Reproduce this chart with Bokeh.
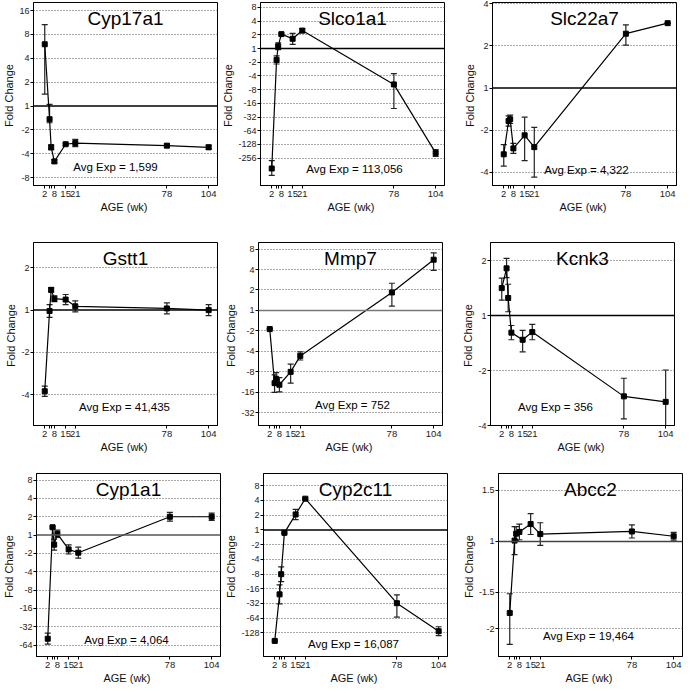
import math
from bokeh.plotting import figure
from bokeh.layouts import column, row
from bokeh.models import (Range1d, FixedTicker, Label, Span, Whisker, TeeHead,
                          ColumnDataSource)
from bokeh.embed import file_html
from bokeh.resources import INLINE

# ---------------- data ----------------
ages = [2, 5, 6, 8, 15, 21, 78, 104]
age_tick_labels = {2: "2", 5: "", 6: "", 8: "8", 15: "15", 21: "21", 78: "78", 104: "104"}

genes = ["Cyp17a1", "Slco1a1", "Slc22a7", "Gstt1", "Mmp7", "Kcnk3", "Cyp1a1", "Cyp2c11", "Abcc2"]
avg_exp = ["1,599", "113,056", "4,322", "41,435", "752", "356", "4,064", "16,087", "19,464"]

# log2 fold change (negative = down-regulation), with error bar ends
cyp17a1_mean = [2.59, -0.55, -1.73, -2.32, -1.60, -1.55, -1.66, -1.73]
cyp17a1_lo = [0.50, -0.70, -1.83, -2.38, -1.65, -1.70, -1.73, -1.82]
cyp17a1_hi = [3.41, 0.07, -1.63, -2.26, -1.55, -1.40, -1.59, -1.64]

slco1a1_mean = [-8.76, -0.83, 0.17, 1.05, 0.71, 1.31, -2.62, -7.62]
slco1a1_lo = [-9.26, -1.13, -0.08, 0.98, 0.31, 1.16, -4.38, -7.87]
slco1a1_hi = [-8.19, -0.53, 0.42, 1.12, 1.11, 1.46, -1.83, -7.37]

slc22a7_mean = [-1.57, -0.78, -0.74, -1.43, -1.12, -1.40, 1.29, 1.54]
slc22a7_lo = [-1.85, -0.90, -0.84, -1.55, -1.72, -2.11, 1.02, 1.54]
slc22a7_hi = [-1.34, -0.66, -0.64, -1.31, -0.69, -0.93, 1.50, 1.54]

gstt1_mean = [-1.92, -0.02, 0.48, 0.27, 0.25, 0.09, 0.04, 0.00]
gstt1_lo = [-2.04, -0.17, 0.43, 0.20, 0.13, -0.04, -0.09, -0.13]
gstt1_hi = [-1.80, 0.13, 0.53, 0.34, 0.37, 0.22, 0.17, 0.13]

mmp7_mean = [-0.91, -3.55, -3.34, -3.63, -3.00, -2.22, 0.88, 2.48]
mmp7_lo = [-0.91, -4.00, -3.64, -3.98, -3.55, -2.42, 0.21, 1.96]
mmp7_hi = [-0.91, -3.15, -3.04, -3.28, -2.62, -2.02, 1.33, 2.81]

kcnk3_mean = [0.50, 0.86, 0.32, -0.31, -0.44, -0.30, -1.47, -1.57]
kcnk3_lo = [0.28, 0.69, 0.07, -0.44, -0.66, -0.44, -1.88, -2.15]
kcnk3_hi = [0.68, 1.04, 0.57, -0.18, -0.27, -0.16, -1.14, -0.99]

cyp1a1_mean = [-5.65, 0.43, -0.52, 0.07, -0.78, -0.96, 1.00, 1.00]
cyp1a1_lo = [-5.95, 0.38, -0.82, -0.13, -1.03, -1.26, 0.76, 0.80]
cyp1a1_hi = [-5.35, 0.48, -0.22, 0.27, -0.53, -0.66, 1.24, 1.20]

cyp2c11_mean = [-7.54, -4.38, -3.01, -0.20, 1.05, 2.12, -4.98, -6.88]
cyp2c11_lo = [-7.60, -5.03, -3.51, -0.25, 0.70, 2.07, -5.92, -7.18]
cyp2c11_hi = [-7.48, -3.73, -2.51, -0.15, 1.40, 2.17, -4.42, -6.58]

abcc2_mean = [-0.82, 0.01, 0.09, 0.11, 0.20, 0.085, 0.115, 0.06]
abcc2_lo = [-1.18, -0.15, 0.01, 0.02, 0.08, -0.045, 0.04, 0.015]
abcc2_hi = [-0.60, 0.17, 0.17, 0.20, 0.32, 0.215, 0.19, 0.105]

# y-axis tick labels (fold change)
yticks = [
    [16, 8, 4, 2, 1, -2, -4, -8],
    [8, 4, 2, 1, -2, -4, -8, -16, -32, -64, -128, -256],
    [4, 2, 1, -2, -4],
    [2, 1, -2, -4],
    [8, 4, 2, 1, -2, -4, -8, -16, -32],
    [2, 1, -2, -4],
    [8, 4, 2, 1, -2, -4, -8, -16, -32, -64],
    [8, 4, 2, 1, -2, -4, -8, -16, -32, -64, -128],
    [1.5, 1, -1.5, -2],
]

series = [
    (cyp17a1_mean, cyp17a1_lo, cyp17a1_hi),
    (slco1a1_mean, slco1a1_lo, slco1a1_hi),
    (slc22a7_mean, slc22a7_lo, slc22a7_hi),
    (gstt1_mean, gstt1_lo, gstt1_hi),
    (mmp7_mean, mmp7_lo, mmp7_hi),
    (kcnk3_mean, kcnk3_lo, kcnk3_hi),
    (cyp1a1_mean, cyp1a1_lo, cyp1a1_hi),
    (cyp2c11_mean, cyp2c11_lo, cyp2c11_hi),
    (abcc2_mean, abcc2_lo, abcc2_hi),
]

# ---------------- layout / style ----------------
y_ranges = [(-3.33, 4.34), (-10.0, 3.36), (-2.31, 2.03),
            (-2.73, 1.60), (-5.62, 3.32), (-2.0, 1.33),
            (-6.62, 3.36), (-8.6, 3.83), (-1.32, 0.78)]
zero_colors = ["black", "black", "black", "black", "#777777", "black", "#555555", "black", "#444444"]
avg_dx = [-10, 2, 2, -1, 2, -27, -2, -2, -2]
avg_y = [19, 17, 16, 19, 21, 19, 17, 13, 21]

FONT = "Liberation Sans"
FW, FH = 184, 183
col_borders = [(33, 2), (39, 12), (36, 3)]
row_borders = [(2, 55), (2, 46), (2, 29)]


def fc_to_pos(f):
    return math.log2(f) if f > 0 else -math.log2(-f)


def fmt(f):
    if f == int(f):
        return str(int(f))
    return str(f)


figs = []
for i, gene in enumerate(genes):
    r, c = divmod(i, 3)
    mean, lo, hi = series[i]
    p = figure(frame_width=FW, frame_height=FH, output_backend="svg", toolbar_location=None,
               x_range=Range1d(-5, 109.5), y_range=Range1d(*y_ranges[i]),
               min_border_left=col_borders[c][0], min_border_right=col_borders[c][1],
               min_border_top=row_borders[r][0], min_border_bottom=row_borders[r][1])
    p.outline_line_color = "black"
    p.outline_line_width = 1
    p.background_fill_color = "white"
    p.border_fill_color = "white"

    # y axis
    pos = [fc_to_pos(f) for f in yticks[i]]
    p.yaxis.ticker = FixedTicker(ticks=pos)
    p.yaxis.major_label_overrides = {pp: fmt(f) for pp, f in zip(pos, yticks[i])}
    p.yaxis.minor_tick_line_color = None
    p.yaxis.major_tick_in = 0
    p.yaxis.major_tick_out = 3
    p.yaxis.major_label_standoff = 1
    p.yaxis.major_label_text_font = FONT
    p.yaxis.major_label_text_font_size = "9px"
    p.yaxis.major_label_text_color = "#222222"
    p.yaxis.axis_line_color = "black"
    p.yaxis.axis_label = "Fold  Change"
    p.yaxis.axis_label_standoff = 1
    p.yaxis.axis_label_text_font = FONT
    p.yaxis.axis_label_text_font_size = "11px"
    p.yaxis.axis_label_text_font_style = "normal"
    p.yaxis.axis_label_text_color = "#111111"

    # x axis
    p.xaxis.ticker = FixedTicker(ticks=ages)
    p.xaxis.major_label_overrides = {a: age_tick_labels[a] for a in ages}
    p.xaxis.minor_tick_line_color = None
    p.xaxis.major_tick_in = 0
    p.xaxis.major_tick_out = 3
    p.xaxis.major_label_standoff = 2
    p.xaxis.major_label_text_font = FONT
    p.xaxis.major_label_text_font_size = "9.5px"
    p.xaxis.major_label_text_color = "#222222"
    p.xaxis.axis_line_color = "black"
    p.xaxis.axis_label = "AGE  (wk)"
    p.xaxis.axis_label_standoff = 1
    p.xaxis.axis_label_text_font = FONT
    p.xaxis.axis_label_text_font_size = "11px"
    p.xaxis.axis_label_text_font_style = "normal"
    p.xaxis.axis_label_text_color = "#111111"

    # grid
    p.xgrid.grid_line_color = None
    p.ygrid.ticker = FixedTicker(ticks=[q for q in pos if q != 0])
    p.ygrid.grid_line_color = "#555555"
    p.ygrid.grid_line_dash = "1 2"
    p.ygrid.grid_line_width = 1

    p.add_layout(Span(location=0, dimension="width", line_color=zero_colors[i], line_width=1.5))

    src = ColumnDataSource(dict(x=ages, y=mean, lo=lo, hi=hi))
    p.line("x", "y", source=src, line_color="black", line_width=1.2)
    p.add_layout(Whisker(source=src, base="x", lower="lo", upper="hi",
                         line_color="#222222", line_width=1.2,
                         lower_head=TeeHead(size=6, line_color="#222222", line_width=1.2),
                         upper_head=TeeHead(size=6, line_color="#222222", line_width=1.2)))
    p.scatter("x", "y", source=src, marker="square", size=5, fill_color="black", line_color="black")

    p.add_layout(Label(x=FW / 2, y=FH - 16, x_units="screen", y_units="screen", text=gene,
                       text_font=FONT, text_font_size="19px", text_align="center",
                       text_baseline="middle", text_color="black"))
    p.add_layout(Label(x=FW / 2 + avg_dx[i], y=avg_y[i], x_units="screen", y_units="screen",
                       text="Avg Exp = " + avg_exp[i], text_font=FONT, text_font_size="11.5px",
                       text_align="center", text_baseline="middle", text_color="black"))
    figs.append(p)

layout = column(row(figs[0], figs[1], figs[2]),
                row(figs[3], figs[4], figs[5]),
                row(figs[6], figs[7], figs[8]))

open("out.html", "w").write(file_html(layout, INLINE))
